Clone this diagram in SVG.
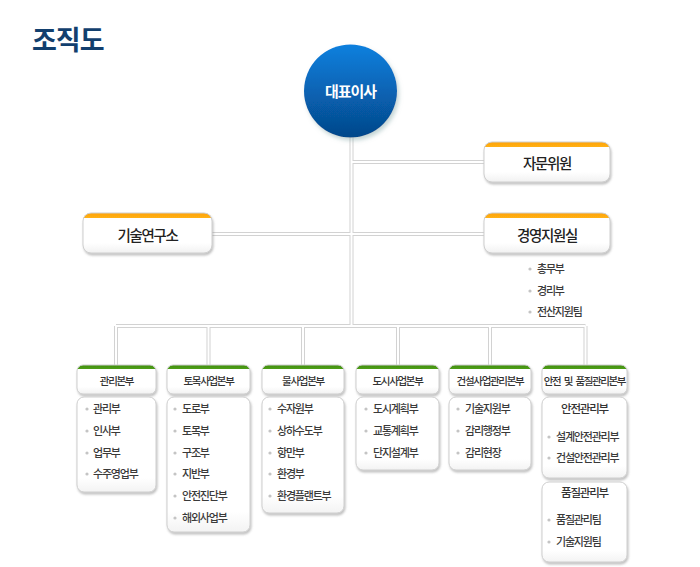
<svg xmlns="http://www.w3.org/2000/svg" width="700" height="567" viewBox="0 0 700 567">
<style>
text{font-family:"Noto Sans CJK KR","Noto Sans",sans-serif}
.title{font-size:27px;font-weight:bold;fill:#123f6e;letter-spacing:-1px}
.ceo{font-size:15px;font-weight:bold;fill:#fff;letter-spacing:-1px}
.big{font-size:14.5px;fill:#222;letter-spacing:-1.3px;font-weight:500}
.hd{font-size:10.5px;fill:#333;letter-spacing:-1.3px;font-weight:500}
.it{font-size:11px;fill:#3a3a3a;letter-spacing:-1.2px;font-weight:500}
.st{font-size:11.5px;fill:#333;letter-spacing:-1.2px;font-weight:500}
.c{text-anchor:middle}
.dot{fill:#c4c4c4}
.bx{stroke:#cfcfcf;stroke-width:1}
.lo{fill:none;stroke:#d2d2d2;stroke-width:4}
.li{fill:none;stroke:#fff;stroke-width:2}
</style>
<defs>
<linearGradient id="ceoG" x1="0" y1="0" x2="0" y2="1">
<stop offset="0" stop-color="#0a80de"/>
<stop offset="1" stop-color="#05478a"/>
</linearGradient>
<linearGradient id="orgG" x1="0" y1="0" x2="0" y2="1">
<stop offset="0" stop-color="#ffa200"/>
<stop offset="0.13" stop-color="#ffb21a"/>
<stop offset="0.13" stop-color="#ffffff"/>
<stop offset="0.75" stop-color="#ffffff"/>
<stop offset="1" stop-color="#f1f1f1"/>
</linearGradient>
<linearGradient id="grnG" x1="0" y1="0" x2="0" y2="1">
<stop offset="0" stop-color="#3f8f0c"/>
<stop offset="0.14" stop-color="#4f9e1a"/>
<stop offset="0.14" stop-color="#ffffff"/>
<stop offset="0.75" stop-color="#ffffff"/>
<stop offset="1" stop-color="#f1f1f1"/>
</linearGradient>
<linearGradient id="whG" x1="0" y1="0" x2="0" y2="1">
<stop offset="0" stop-color="#ffffff"/>
<stop offset="0.85" stop-color="#ffffff"/>
<stop offset="1" stop-color="#f3f3f3"/>
</linearGradient>
<filter id="sh" x="-10%" y="-10%" width="125%" height="130%">
<feDropShadow dx="1" dy="2" stdDeviation="1" flood-color="#777" flood-opacity="0.45"/>
</filter>
<filter id="csh" x="-20%" y="-20%" width="145%" height="145%">
<feDropShadow dx="2" dy="3" stdDeviation="2" flood-color="#8aa" flood-opacity="0.5"/>
</filter>
</defs>
<rect width="700" height="567" fill="#fff"/>
<text class="title" x="32" y="50">조직도</text>

<g id="connectors">
<path class="lo" d="M351.5 136V326M351.5 162H484M212 234H484M116 326H585.5M116 326V365M208.5 326V365M303 326V365M398 326V365M490 326V365M585.5 326V365"/>
<path class="li" d="M351.5 136V326M351.5 162H484M212 234H484M116 326H585.5M116 326V365M208.5 326V365M303 326V365M398 326V365M490 326V365M585.5 326V365"/>
</g>

<g id="ceo">
<circle cx="350.5" cy="91" r="46.5" fill="url(#ceoG)" filter="url(#csh)"/>
<text class="ceo c" x="350.5" y="96.5">대표이사</text>
</g>

<g id="advisory">
<rect class="bx" x="484" y="142" width="126" height="40" rx="8" fill="url(#orgG)" filter="url(#sh)"/>
<text class="big c" x="547" y="169">자문위원</text>
</g>

<g id="research">
<rect class="bx" x="83" y="213" width="129" height="40" rx="8" fill="url(#orgG)" filter="url(#sh)"/>
<text class="big c" x="147.5" y="241">기술연구소</text>
</g>

<g id="management-support">
<rect class="bx" x="484" y="213" width="126" height="40" rx="8" fill="url(#orgG)" filter="url(#sh)"/>
<text class="big c" x="547" y="241">경영지원실</text>
<circle class="dot" cx="530" cy="269" r="1.6"/><text class="it" x="537" y="273">총무부</text>
<circle class="dot" cx="530" cy="291" r="1.6"/><text class="it" x="537" y="295">경리부</text>
<circle class="dot" cx="530" cy="312" r="1.6"/><text class="it" x="537" y="316">전산지원팀</text>
</g>

<g id="admin-hq">
<rect class="bx" x="77" y="365" width="79" height="29" rx="6" fill="url(#grnG)" filter="url(#sh)"/>
<text class="hd c" x="116.5" y="385">관리본부</text>
<rect class="bx" x="77" y="397" width="79" height="95" rx="7" fill="url(#whG)" filter="url(#sh)"/>
<circle class="dot" cx="87" cy="409" r="1.6"/><text class="it" x="93" y="413">관리부</text>
<circle class="dot" cx="87" cy="431" r="1.6"/><text class="it" x="93" y="435">인사부</text>
<circle class="dot" cx="87" cy="453" r="1.6"/><text class="it" x="93" y="457">업무부</text>
<circle class="dot" cx="87" cy="474" r="1.6"/><text class="it" x="93" y="478">수주영업부</text>
</g>

<g id="civil-hq">
<rect class="bx" x="167" y="365" width="83" height="29" rx="6" fill="url(#grnG)" filter="url(#sh)"/>
<text class="hd c" x="208.5" y="385">토목사업본부</text>
<rect class="bx" x="167" y="397" width="83" height="135" rx="7" fill="url(#whG)" filter="url(#sh)"/>
<circle class="dot" cx="175" cy="409" r="1.6"/><text class="it" x="182" y="413">도로부</text>
<circle class="dot" cx="175" cy="431" r="1.6"/><text class="it" x="182" y="435">토목부</text>
<circle class="dot" cx="175" cy="453" r="1.6"/><text class="it" x="182" y="457">구조부</text>
<circle class="dot" cx="175" cy="474" r="1.6"/><text class="it" x="182" y="478">지반부</text>
<circle class="dot" cx="175" cy="496" r="1.6"/><text class="it" x="182" y="500">안전진단부</text>
<circle class="dot" cx="175" cy="518" r="1.6"/><text class="it" x="182" y="522">해외사업부</text>
</g>

<g id="water-hq">
<rect class="bx" x="262" y="365" width="82" height="29" rx="6" fill="url(#grnG)" filter="url(#sh)"/>
<text class="hd c" x="303" y="385">물사업본부</text>
<rect class="bx" x="262" y="397" width="82" height="116" rx="7" fill="url(#whG)" filter="url(#sh)"/>
<circle class="dot" cx="270" cy="409" r="1.6"/><text class="it" x="277" y="413">수자원부</text>
<circle class="dot" cx="270" cy="431" r="1.6"/><text class="it" x="277" y="435">상하수도부</text>
<circle class="dot" cx="270" cy="453" r="1.6"/><text class="it" x="277" y="457">항만부</text>
<circle class="dot" cx="270" cy="474" r="1.6"/><text class="it" x="277" y="478">환경부</text>
<circle class="dot" cx="270" cy="496" r="1.6"/><text class="it" x="277" y="500">환경플랜트부</text>
</g>

<g id="urban-hq">
<rect class="bx" x="356" y="365" width="83" height="29" rx="6" fill="url(#grnG)" filter="url(#sh)"/>
<text class="hd c" x="397.5" y="385">도시사업본부</text>
<rect class="bx" x="356" y="397" width="83" height="73" rx="7" fill="url(#whG)" filter="url(#sh)"/>
<circle class="dot" cx="366" cy="409" r="1.6"/><text class="it" x="373" y="413">도시계획부</text>
<circle class="dot" cx="366" cy="431" r="1.6"/><text class="it" x="373" y="435">교통계획부</text>
<circle class="dot" cx="366" cy="453" r="1.6"/><text class="it" x="373" y="457">단지설계부</text>
</g>

<g id="cm-hq">
<rect class="bx" x="449" y="365" width="82" height="29" rx="6" fill="url(#grnG)" filter="url(#sh)"/>
<text class="hd c" x="490" y="385">건설사업관리본부</text>
<rect class="bx" x="449" y="397" width="82" height="73" rx="7" fill="url(#whG)" filter="url(#sh)"/>
<circle class="dot" cx="458" cy="409" r="1.6"/><text class="it" x="465" y="413">기술지원부</text>
<circle class="dot" cx="458" cy="431" r="1.6"/><text class="it" x="465" y="435">감리행정부</text>
<circle class="dot" cx="458" cy="453" r="1.6"/><text class="it" x="465" y="457">감리현장</text>
</g>

<g id="safety-quality-hq">
<rect class="bx" x="542" y="365" width="85" height="29" rx="6" fill="url(#grnG)" filter="url(#sh)"/>
<text class="hd c" x="584.5" y="385" style="letter-spacing:-1.4px;word-spacing:2.5px">안전 및 품질관리본부</text>
<rect class="bx" x="542" y="397" width="85" height="81" rx="7" fill="url(#whG)" filter="url(#sh)"/>
<text class="st c" x="584.5" y="413">안전관리부</text>
<circle class="dot" cx="549" cy="437" r="1.6"/><text class="it" x="556" y="441">설계안전관리부</text>
<circle class="dot" cx="549" cy="458" r="1.6"/><text class="it" x="556" y="462">건설안전관리부</text>
<rect class="bx" x="542" y="482" width="85" height="80" rx="7" fill="url(#whG)" filter="url(#sh)"/>
<text class="st c" x="584.5" y="497">품질관리부</text>
<circle class="dot" cx="549" cy="520" r="1.6"/><text class="it" x="556" y="524">품질관리팀</text>
<circle class="dot" cx="549" cy="542" r="1.6"/><text class="it" x="556" y="546">기술지원팀</text>
</g>
</svg>
